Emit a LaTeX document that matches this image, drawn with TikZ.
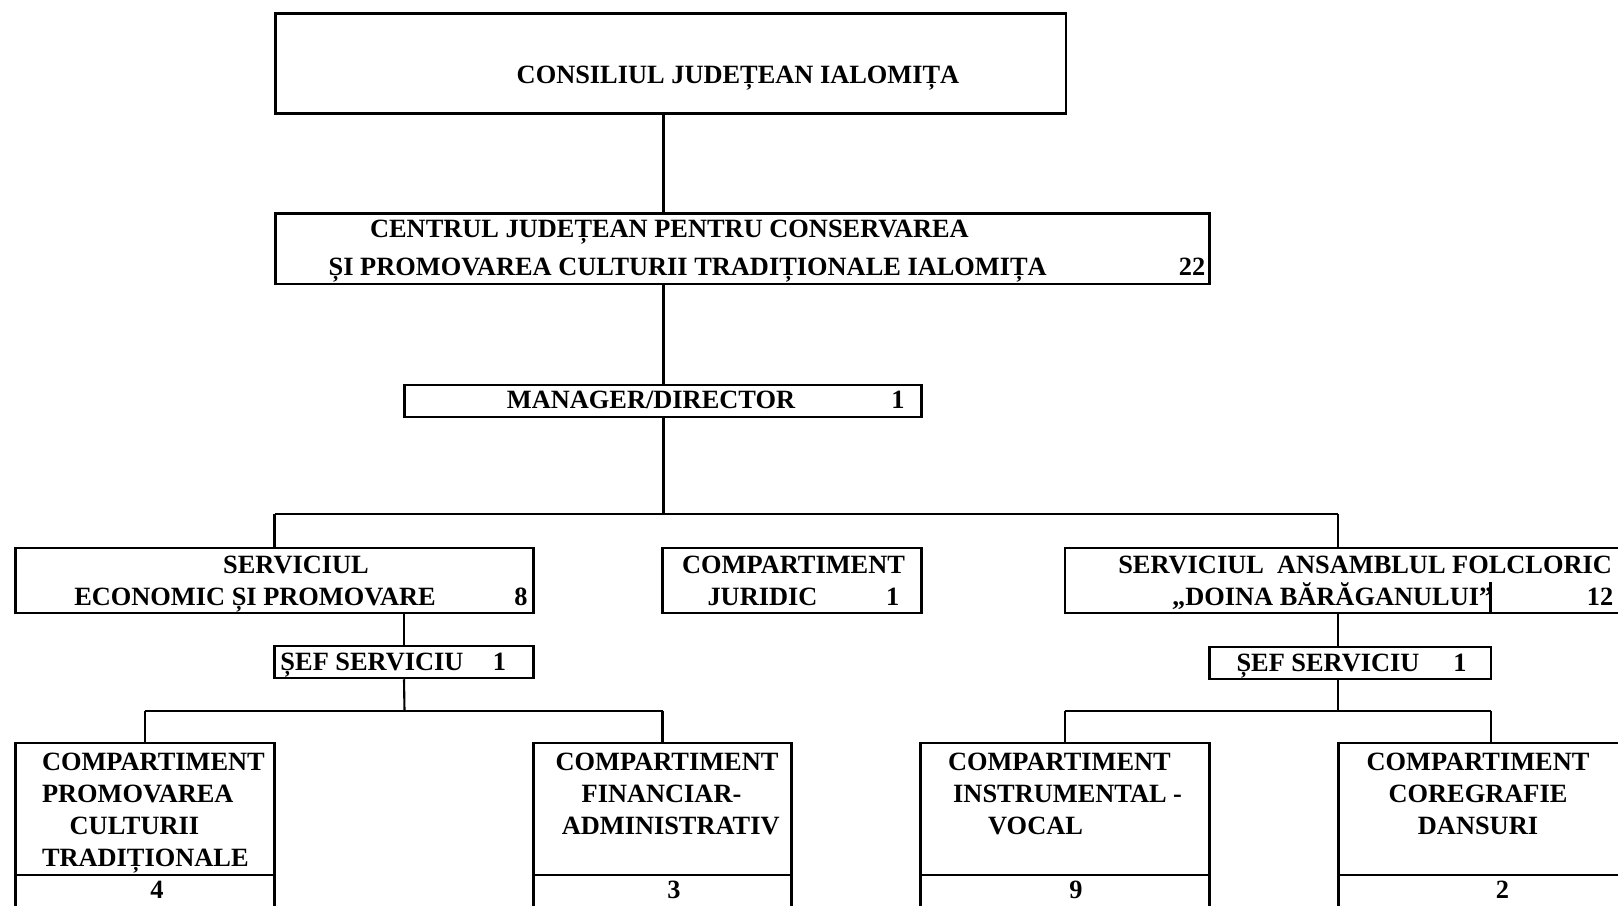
\documentclass[tikz,border=0pt]{standalone}
\usepackage{fontspec}
\setmainfont{Liberation Serif}
\usetikzlibrary{fit,calc}

\tikzset{
  box/.style={draw,line width=0.7pt,rectangle,inner sep=0pt},
  lbl/.style={font=\fontsize{7.5}{9}\selectfont\bfseries,inner sep=0pt,text height=5pt,text depth=0pt},
  link/.style={line width=0.6pt},
}

\begin{document}
\begin{tikzpicture}[x=0.01cm,y=-0.01cm]
 	\useasboundingbox (0,0) rectangle (1618,905);
 	\clip (0,0) rectangle (1618,905);
 	% level 0 and 1
 	\node[box,fit={(275.5,13.4) (1066,113.5)}] (cons) {};
 	\node[lbl] (consT) at (738,75) {CONSILIUL JUDEȚEAN IALOMIȚA};
 	\node[box,fit={(275.5,213.6) (1209.4,283.8)}] (centru) {};
 	\node[lbl,anchor=west] (centruA) at (369.4,229) {CENTRUL JUDEȚEAN PENTRU CONSERVAREA};
 	\node[lbl,anchor=west] (centruB) at (328,267) {ȘI PROMOVAREA CULTURII TRADIȚIONALE IALOMIȚA};
 	\node[lbl] (centruN) at (1192,267) {22};
 	\node[box,fit={(404.5,385) (921.5,417)}] (man) {};
 	\node[lbl] (manT) at (651,400) {MANAGER/DIRECTOR};
 	\node[lbl] (manN) at (898,400) {1};
 	\coordinate (trunk) at (663.5,514);
 	\draw[link] (cons.south -| trunk) -- (centru.north -| trunk);
 	\draw[link] (centru.south -| trunk) -- (man.north -| trunk);
 	\draw[link] (man.south -| trunk) -- (trunk);
 	% services
 	\node[box,fit={(15.5,548) (533.5,613)}] (econ) {};
 	\node[lbl] (econA) at (296,564.5) {SERVICIUL};
 	\node[lbl] (econB) at (255,596.5) {ECONOMIC ȘI PROMOVARE};
 	\node[lbl] (econN) at (521,596.5) {8};
 	\node[box,fit={(662.5,548) (921.5,613)}] (jur) {};
 	\node[lbl] (jurA) at (793.5,564.5) {COMPARTIMENT};
 	\node[lbl] (jurB) at (762.5,596.5) {JURIDIC};
 	\node[lbl] (jurN) at (892.6,596.5) {1};
 	\node[box,fit={(1065,548) (1660,613)}] (ans) {};
 	\node[lbl,anchor=west] (ansA) at (1117.6,564.5) {SERVICIUL\ \ ANSAMBLUL FOLCLORIC};
 	\node[lbl,anchor=east] (ansB) at (1493,596.5) {„DOINA BĂRĂGANULUI”};
 	\node[lbl] (ansN) at (1600,596.5) {12};
 	\coordinate (ansCell) at (1490.5,582);
 	\draw[link] (ansCell) -- (ansCell |- ans.south);
 	\coordinate (rbus) at (1338.4,514);
 	\draw[link] (econ.north |- trunk) -- (rbus);
 	\draw[link] (econ.north |- trunk) -- (econ.north);
 	\draw[link] (rbus) -- (rbus |- ans.north);
 	% heads of service
 	\node[box,fit={(274.5,646) (533.5,678)}] (sefA) {};
 	\node[lbl] (sefAT) at (372,661.5) {ȘEF SERVICIU};
 	\node[lbl] (sefAN) at (499.5,661.5) {1};
 	\node[box,fit={(1209.4,647) (1491,679)}] (sefB) {};
 	\node[lbl] (sefBT) at (1328,663) {ȘEF SERVICIU};
 	\node[lbl] (sefBN) at (1460,663) {1};
 	\draw[link] (econ.south -| sefA) -- (sefA.north);
 	\draw[link] (ans.south -| rbus) -- (sefB.north -| rbus);
 	% compartments, left
 	\node[box,fit={(15.5,743) (274.5,940)}] (prom) {};
 	\draw[link] (prom.west |- 0,875) -- (prom.east |- 0,875);
 	\node[lbl,anchor=west] (promA) at (41.3,761.5) {COMPARTIMENT};
 	\node[lbl,anchor=west] (promB) at (41.3,793.5) {PROMOVAREA};
 	\node[lbl,anchor=west] (promC) at (69,825.5) {CULTURII};
 	\node[lbl,anchor=west] (promD) at (41.3,857.5) {TRADIȚIONALE};
 	\node[lbl] (promN) at (157,889.5) {4};
 	\node[box,fit={(533.5,743) (791.5,940)}] (fin) {};
 	\draw[link] (fin.west |- 0,875) -- (fin.east |- 0,875);
 	\node[lbl] (finA) at (667,761.5) {COMPARTIMENT};
 	\node[lbl] (finB) at (661.5,793.5) {FINANCIAR-};
 	\node[lbl] (finC) at (670.7,825.5) {ADMINISTRATIV};
 	\node[lbl] (finN) at (674,889.5) {3};
 	\coordinate (lsub) at (404.5,711);
 	\draw[link] (sefA.south) -- (lsub);
 	\draw[link] (prom.north |- lsub) -- (fin.north |- lsub);
 	\draw[link] (prom.north |- lsub) -- (prom.north);
 	\draw[link] (fin.north |- lsub) -- (fin.north);
 	% compartments, right
 	\node[box,fit={(920.5,743) (1209.4,940)}] (instr) {};
 	\draw[link] (instr.west |- 0,875) -- (instr.east |- 0,875);
 	\node[lbl,anchor=west] (instrA) at (947.3,761.5) {COMPARTIMENT};
 	\node[lbl,anchor=west] (instrB) at (952.5,793.5) {INSTRUMENTAL -};
 	\node[lbl,anchor=west] (instrC) at (987.5,825.5) {VOCAL};
 	\node[lbl] (instrN) at (1076,889.5) {9};
 	\node[box,fit={(1338.4,743) (1660,940)}] (coreg) {};
 	\draw[link] (coreg.west |- 0,875) -- (coreg.east |- 0,875);
 	\node[lbl] (coregA) at (1478,761.5) {COMPARTIMENT};
 	\node[lbl] (coregB) at (1478,793.5) {COREGRAFIE};
 	\node[lbl] (coregC) at (1478,825.5) {DANSURI};
 	\node[lbl] (coregN) at (1502.5,889.5) {2};
 	\coordinate (rsub) at (1338.4,711);
 	\coordinate (rsubE) at (1491,711);
 	\draw[link] (sefB.south -| rsub) -- (rsub);
 	\draw[link] (instr.north |- rsub) -- (rsubE);
 	\draw[link] (instr.north |- rsub) -- (instr.north);
 	\draw[link] (rsubE) -- (rsubE |- coreg.north);
\end{tikzpicture}
\end{document}
